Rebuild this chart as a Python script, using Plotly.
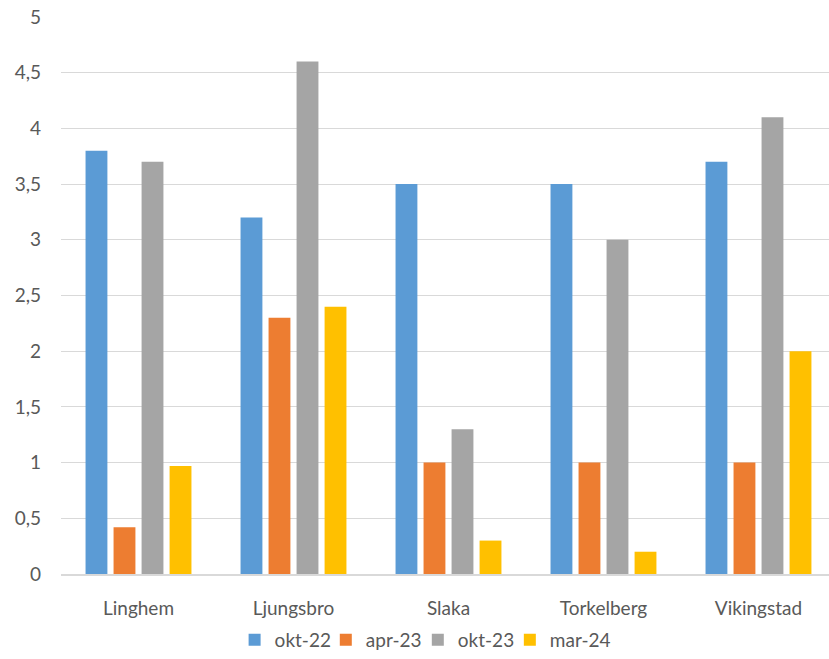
import plotly.graph_objects as go

categories = ["Linghem", "Ljungsbro", "Slaka", "Torkelberg", "Vikingstad"]
series_names = ["okt-22", "apr-23", "okt-23", "mar-24"]
okt22 = [3.8, 3.2, 3.5, 3.5, 3.7]
apr23 = [0.42, 2.3, 1.0, 1.0, 1.0]
okt23 = [3.7, 4.6, 1.3, 3.0, 4.1]
mar24 = [0.97, 2.4, 0.3, 0.2, 2.0]
colors = ["#5B9BD5", "#ED7D31", "#A5A5A5", "#FFC000"]
y_ticks = [0, 0.5, 1, 1.5, 2, 2.5, 3, 3.5, 4, 4.5, 5]

FONT = "Lato, Open Sans, sans-serif"
FS = 19
legend_ids = ["legend", "legend2", "legend3", "legend4"]
legend_x = [0.283, 0.393, 0.504, 0.615]

fig = go.Figure()
for name, vals, col, lid in zip(series_names, [okt22, apr23, okt23, mar24], colors, legend_ids):
    fig.add_trace(go.Bar(x=categories, y=vals, name=name, marker_color=col,
                         marker_line_width=0, legend=lid))

layout_legends = {}
for lid, lx in zip(legend_ids, legend_x):
    layout_legends[lid] = dict(orientation="h", xref="container", x=lx, xanchor="left",
                               yref="container", y=0.0, yanchor="bottom",
                               font=dict(family=FONT, size=FS, color="#595959"),
                               itemwidth=30, bgcolor="rgba(0,0,0,0)")

fig.update_layout(
    width=829, height=659,
    margin=dict(l=61, r=0, t=17, b=85),
    paper_bgcolor="white", plot_bgcolor="white",
    separators=", ",
    barmode="group", bargap=0.277, bargroupgap=0.22,
    font=dict(family=FONT, size=FS, color="#595959"),
    showlegend=True,
    **layout_legends,
)
fig.update_xaxes(range=[-0.5, 4.455], showgrid=False, showline=True, linecolor="#D9D9D9",
                 linewidth=1.5, ticks="", ticklabelstandoff=16,
                 tickfont=dict(family=FONT, size=FS, color="#595959"))
fig.update_yaxes(range=[0, 5], tickvals=y_ticks, showgrid=True, gridcolor="#D9D9D9",
                 gridwidth=1, zeroline=False, showline=False, ticks="",
                 ticklabelstandoff=19, tickformat=".1~f",
                 tickfont=dict(family=FONT, size=FS, color="#595959"))

fig.write_html("out.html")
